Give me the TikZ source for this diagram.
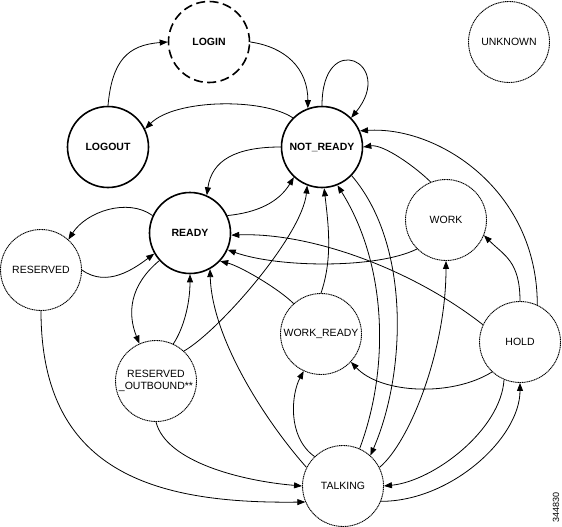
\documentclass[tikz,border=0pt]{standalone}
\usepackage{fontspec}
\setmainfont{Liberation Sans}
\usetikzlibrary{arrows.meta}
\begin{document}
\begin{tikzpicture}[x=1pt,y=-1pt,
  st/.style={circle, minimum size=81pt, inner sep=0pt, font=\fontsize{10.5}{12}\selectfont, align=center},
  major/.style={st, draw, line width=1.6pt, font=\fontsize{10.5}{12}\selectfont\bfseries},
  dashst/.style={major, dash pattern=on 9pt off 4.5pt},
  minor/.style={st, draw, line width=0.9pt, dash pattern=on 1.2pt off 0.6pt},
  e/.style={line width=0.8pt, -{Triangle[length=8pt,width=6pt]}}]
\useasboundingbox (0,0) rectangle (562,527);
\node[dashst] (LOGIN) at (209,42) {LOGIN};
\node[minor] (UNKNOWN) at (509,42) {UNKNOWN};
\node[major] (LOGOUT) at (108,147) {LOGOUT};
\node[major] (NR) at (322,147) {NOT\_READY};
\node[major] (READY) at (190,233) {READY};
\node[minor] (WORK) at (446,220) {WORK};
\node[minor] (RESERVED) at (41,270) {RESERVED};
\node[minor] (RO) at (156,381) {RESERVED\\\_OUTBOUND**};
\node[minor] (WR) at (321,334) {WORK\_READY};
\node[minor] (HOLD) at (520,342) {HOLD};
\node[minor] (TALK) at (343,486) {TALKING};
\node[rotate=90, font=\fontsize{9}{10}\selectfont, inner sep=0pt] (ID) at (556,507) {344830};

\draw[e] (LOGOUT.90) .. controls +(4,-45) and +(-40,3) .. (LOGIN.180);
\draw[e] (LOGIN.0) .. controls +(35,5) and +(0,-40) .. (NR.110);
\draw[e] (NR.90) .. controls +(0,-78) and +(45,-55) .. (NR.45);
\draw[e] (NR.135) .. controls +(-30,-20) and +(30,-30) .. (LOGOUT.26);
\draw[e] (NR.180) .. controls +(-45,0) and +(5,-35) .. (READY.66);
\draw[e] (READY.25) .. controls +(30,-3) and +(-15,25) .. (NR.227);
\draw[e] (READY.155) .. controls +(-25,-18) and +(18,-28) .. (RESERVED.48);
\draw[e] (RESERVED.0) .. controls +(25,18) and +(-20,15) .. (READY.210);
\draw[e] (READY.222) .. controls +(-30,25) and +(-12,-30) .. (RO.114);
\draw[e] (RO.65) .. controls +(10,-15) and +(0,30) .. (READY.270);
\draw[e] (RO.47) .. controls +(35,-20) and +(-5,50) .. (NR.249);
\draw[e] (WR.90) .. controls +(12,-35) and +(4,35) .. (NR.273);
\draw[e] (TALK.66) .. controls +(30,-80) and +(50,80) .. (NR.292);
\draw[e] (NR.316) .. controls +(60,70) and +(35,-80) .. (TALK.48);
\draw[e] (WORK.112) .. controls +(-15,-15) and +(20,-3) .. (NR.0);
\draw[e] (HOLD.65) .. controls +(0,-115) and +(78,-5) .. (NR.23);
\draw[e] (HOLD.90) .. controls +(0,-40) and +(20,20) .. (WORK.338);
\draw[e] (WORK.225) .. controls +(-40,20) and +(50,18) .. (READY.336);
\draw[e] (HOLD.155) .. controls +(-70,-55) and +(80,-3) .. (READY.357);
\draw[e] (WR.132) .. controls +(-15,-15) and +(20,5) .. (READY.317);
\draw[e] (TALK.153) .. controls +(-40,-45) and +(2,70) .. (READY.299);
\draw[e] (TALK.134) .. controls +(-28,-20) and +(-12,22) .. (WR.245);
\draw[e] (HOLD.227) .. controls +(-40,25) and +(30,32) .. (WR.317);
\draw[e] (TALK.27) .. controls +(30,-25) and +(0,90) .. (WORK.270);
\draw[e] (HOLD.247) .. controls +(-3,50) and +(50,-5) .. (TALK.0);
\draw[e] (TALK.338) .. controls +(70,0) and +(0,55) .. (HOLD.270);
\draw[e] (RESERVED.270) .. controls +(0,160) and +(-153,2) .. (TALK.203);
\draw[e] (RO.270) .. controls +(10,40) and +(-60,-5) .. (TALK.180);
\end{tikzpicture}
\end{document}
